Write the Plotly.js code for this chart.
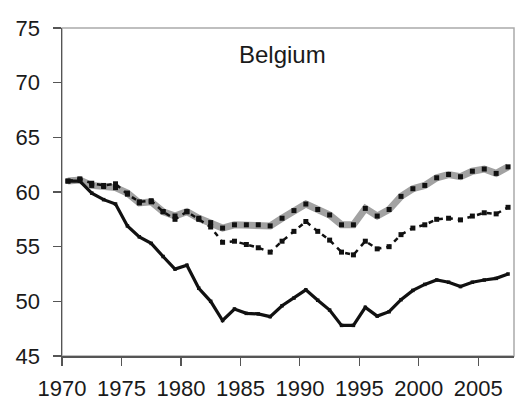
<!DOCTYPE html>
<html>
<head>
<meta charset="utf-8">
<script src="https://cdn.plot.ly/plotly-3.0.1.min.js"></script>
<style>html,body{margin:0;padding:0;background:#fff;}#chart{width:516px;height:403px;}</style>
</head>
<body>
<div id="chart"></div>
<script>
const years = [1970,1971,1972,1973,1974,1975,1976,1977,1978,1979,1980,1981,1982,1983,1984,1985,1986,1987,1988,1989,1990,1991,1992,1993,1994,1995,1996,1997,1998,1999,2000,2001,2002,2003,2004,2005,2006,2007];
const grayLine = [61.0,61.1,60.6,60.5,60.4,59.9,59.0,59.1,58.2,57.8,58.2,57.6,57.2,56.7,57.0,57.0,57.0,56.9,57.6,58.3,58.9,58.4,57.9,57.0,57.0,58.5,57.8,58.4,59.6,60.3,60.6,61.3,61.6,61.4,61.9,62.1,61.7,62.3];
const dottedLine = [61.0,61.2,60.8,60.6,60.75,59.8,59.1,59.2,58.2,57.5,58.2,57.5,56.8,55.4,55.5,55.2,54.9,54.5,55.5,56.4,57.3,56.4,55.6,54.5,54.25,55.5,54.8,55.0,56.1,56.7,57.0,57.5,57.6,57.45,57.8,58.1,58.0,58.6];
const solidLine = [61.0,61.0,59.9,59.3,58.9,56.9,55.9,55.3,54.1,52.95,53.3,51.2,50.0,48.25,49.3,48.9,48.85,48.6,49.6,50.3,51.05,50.1,49.2,47.8,47.8,49.45,48.65,49.05,50.15,51.0,51.55,51.95,51.75,51.35,51.75,51.95,52.1,52.5];
const tickYears = [1970,1975,1980,1985,1990,1995,2000,2005];
const tickLabels = ["1970","1975","1980","1985","1990","1995","2000","2005"];
const chartTitle = "Belgium";

const font = "Liberation Sans, Arial, sans-serif";
const traces = [
  {x: years, y: grayLine, type: 'scatter', mode: 'lines+markers',
   line: {color: '#a2a2a2', width: 7}, marker: {symbol: 'square', size: 5, color: '#111'}},
  {x: years, y: dottedLine, type: 'scatter', mode: 'lines+markers',
   line: {color: '#111', width: 2.5, dash: '5px,5px'}, marker: {symbol: 'square', size: 5, color: '#111'}},
  {x: years, y: solidLine, type: 'scatter', mode: 'lines+markers',
   line: {color: '#111', width: 3.2}, marker: {symbol: 'square', size: 3.5, color: '#111'}}
];
const layout = {
  width: 516, height: 403,
  margin: {l: 62, r: 2, t: 28, b: 47},
  paper_bgcolor: '#fff', plot_bgcolor: '#fff',
  showlegend: false,
  font: {family: font, size: 22, color: '#1a1a1a'},
  xaxis: {
    range: [1969.5, 2007.5],
    tickvals: tickYears.map(v => v - 0.5), ticktext: tickLabels,
    ticks: 'outside', ticklen: 8, tickwidth: 1.2, tickcolor: '#555',
    showline: true, linecolor: '#555', linewidth: 1.5,
    showgrid: false, zeroline: false,
    tickfont: {family: font, size: 22, color: '#1a1a1a'},
    ticklabelstandoff: 4, fixedrange: true
  },
  yaxis: {
    range: [45, 75], dtick: 5, tick0: 45,
    ticks: 'outside', ticklen: 8, tickwidth: 1.2, tickcolor: '#555',
    showline: true, linecolor: '#555', linewidth: 1.5,
    showgrid: false, zeroline: false,
    tickfont: {family: font, size: 22, color: '#1a1a1a'},
    ticklabelstandoff: 8, fixedrange: true
  },
  shapes: [{type: 'rect', xref: 'paper', yref: 'paper', x0: 0, x1: 1, y0: 0, y1: 1,
            line: {color: '#aaaaaa', width: 1.5}, layer: 'below'}],
  annotations: [{text: chartTitle, xref: 'paper', yref: 'paper', x: 0.488, y: 0.918,
                 xanchor: 'center', yanchor: 'middle', showarrow: false,
                 font: {family: font, size: 24, color: '#1a1a1a'}}]
};
Plotly.newPlot('chart', traces, layout, {displayModeBar: false, staticPlot: true});
</script>
</body>
</html>
